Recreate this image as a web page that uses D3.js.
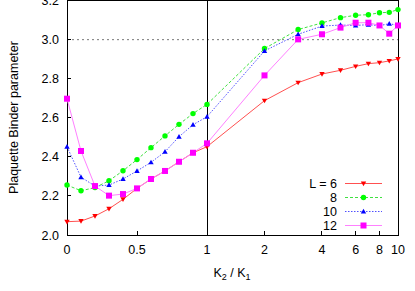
<!DOCTYPE html>
<html>
<head>
<meta charset="utf-8">
<script src="https://cdn.jsdelivr.net/npm/d3@7"></script>
<style>
  body { margin: 0; background: #fff; }
  svg { display: block; font-family: "Liberation Sans", Arial, sans-serif; }
</style>
</head>
<body>
<div id="chart"></div>
<script>
// K2/K1 values
const ratio = [0, 0.1, 0.2, 0.3, 0.4, 0.5, 0.6, 0.7, 0.8, 0.9, 1, 2, 3, 4, 5, 6, 7, 8, 9, 10];

const binderL6 = [2.068, 2.071, 2.097, 2.134, 2.182, 2.238, 2.286, 2.327, 2.374, 2.42, 2.451,
  2.686, 2.778, 2.822, 2.841, 2.861, 2.875, 2.88, 2.889, 2.899];
const binderL8 = [2.255, 2.226, 2.242, 2.277, 2.328, 2.385, 2.446, 2.506, 2.565, 2.62, 2.667,
  2.952, 3.049, 3.083, 3.11, 3.122, 3.125, 3.135, 3.137, 3.151];
const binderL10 = [2.451, 2.295, 2.25, 2.255, 2.286, 2.327, 2.371, 2.425, 2.502, 2.563, 2.604,
  2.94, 3.025, 3.067, 3.072, 3.07, 3.074, 3.069, 3.079, 3.07];
const binderL12 = [2.696, 2.429, 2.25, 2.201, 2.209, 2.238, 2.286, 2.327, 2.374, 2.42, 2.468,
  2.815, 2.999, 3.025, 3.059, 3.084, 3.084, 3.07, 3.028, 3.07];

const xTicks = [0, 0.5, 1, 2, 4, 6, 8, 10];
const yTicks = [2.0, 2.2, 2.4, 2.6, 2.8, 3.0, 3.2];
const legendLabels = ["L = 6", "8", "10", "12"];

const series = [
  {label: legendLabels[0], values: binderL6, line: "#ff5050", mark: "#f00", dash: null, shape: "down"},
  {label: legendLabels[1], values: binderL8, line: "#40e040", mark: "#0f0", dash: "3,2", shape: "circle"},
  {label: legendLabels[2], values: binderL10, line: "#5050ff", mark: "#00f", dash: "1.5,1.5", shape: "up"},
  {label: legendLabels[3], values: binderL12, line: "#ff80ff", mark: "#f0f", dash: null, shape: "square"}
];

const W = 415, H = 291;
const padL = 67, padR = 398, padT = 0, padB = 235;

// linear on [0,1], log on [1,10]
const xLin = d3.scaleLinear().domain([0, 1]).range([padL, 207]);
const xLog = d3.scaleLog().domain([1, 10]).range([207, padR]);
const x = v => v <= 1 ? xLin(v) : xLog(v);
const y = d3.scaleLinear().domain([2.0, 3.2]).range([padB, padT]);

const svg = d3.select("#chart").append("svg")
  .attr("width", W).attr("height", H);

// reference line at 3.0
svg.append("line")
  .attr("x1", padL).attr("x2", padR)
  .attr("y1", y(3.0) + 0.5).attr("y2", y(3.0) + 0.5)
  .attr("stroke", "#777").attr("stroke-dasharray", "2,3");

// ticks
const tickLen = 4;
svg.append("g").selectAll("line").data(yTicks).join("line")
  .attr("x1", padL).attr("x2", padL + tickLen)
  .attr("y1", d => y(d)).attr("y2", d => y(d))
  .attr("stroke", "#000").attr("shape-rendering", "crispEdges");
svg.append("g").selectAll("text").data(yTicks).join("text")
  .attr("x", padL - 8).attr("y", d => y(d) + 4.5)
  .attr("text-anchor", "end").attr("font-size", 12.5)
  .text(d => d.toFixed(1));

svg.append("g").selectAll("line").data(xTicks).join("line")
  .attr("x1", d => x(d)).attr("x2", d => x(d))
  .attr("y1", padB).attr("y2", padB - tickLen)
  .attr("stroke", "#000").attr("shape-rendering", "crispEdges");
svg.append("g").selectAll("text").data(xTicks).join("text")
  .attr("x", d => x(d)).attr("y", padB + 19)
  .attr("text-anchor", "middle").attr("font-size", 12.5)
  .text(d => d);

// vertical line at K2/K1 = 1
svg.append("line")
  .attr("x1", x(1)).attr("x2", x(1))
  .attr("y1", padT).attr("y2", padB)
  .attr("stroke", "#000").attr("shape-rendering", "crispEdges");

// frame
svg.append("rect")
  .attr("x", padL).attr("y", padT)
  .attr("width", padR - padL).attr("height", padB - padT)
  .attr("fill", "none").attr("stroke", "#000")
  .attr("shape-rendering", "crispEdges");

const path = d3.line().x((d, i) => x(ratio[i])).y(d => y(d));

function marker(g, shape, color, cx, cy) {
  if (shape === "circle") {
    g.append("circle").attr("cx", cx).attr("cy", cy).attr("r", 2.7).attr("fill", color);
  } else if (shape === "square") {
    g.append("rect").attr("x", cx - 3).attr("y", cy - 3)
      .attr("width", 6).attr("height", 6).attr("fill", color);
  } else {
    const s = shape === "up" ? -1 : 1;
    g.append("path")
      .attr("d", `M${cx - 2.7},${cy - 2 * s}L${cx + 2.7},${cy - 2 * s}L${cx},${cy + 2.7 * s}Z`)
      .attr("fill", color);
  }
}

series.forEach(s => {
  const g = svg.append("g");
  g.append("path")
    .attr("d", path(s.values))
    .attr("fill", "none")
    .attr("stroke", s.line)
    .attr("stroke-width", 1)
    .attr("stroke-dasharray", s.dash);
  s.values.forEach((v, i) => marker(g, s.shape, s.mark, x(ratio[i]), y(v)));
});

// legend
const lg = svg.append("g");
series.forEach((s, i) => {
  const ly = 183 + i * 14;
  lg.append("text")
    .attr("x", 337).attr("y", ly + 4.5)
    .attr("text-anchor", "end").attr("font-size", 12.5)
    .text(s.label);
  lg.append("line")
    .attr("x1", 345).attr("x2", 382)
    .attr("y1", ly + 0.5).attr("y2", ly + 0.5)
    .attr("stroke", s.line).attr("stroke-dasharray", s.dash);
  marker(lg, s.shape, s.mark, 363.5, ly + 0.5);
});

// axis titles
const xt = svg.append("text")
  .attr("x", 232).attr("y", 277)
  .attr("text-anchor", "middle").attr("font-size", 12.5);
xt.append("tspan").text("K");
xt.append("tspan").attr("dy", 3).attr("font-size", 9).text("2");
xt.append("tspan").attr("dy", -3).text(" / K");
xt.append("tspan").attr("dy", 3).attr("font-size", 9).text("1");

svg.append("text")
  .attr("transform", `translate(18,${(padT + padB) / 2}) rotate(-90)`)
  .attr("text-anchor", "middle").attr("font-size", 12.5)
  .text("Plaquette Binder parameter");
</script>
</body>
</html>
